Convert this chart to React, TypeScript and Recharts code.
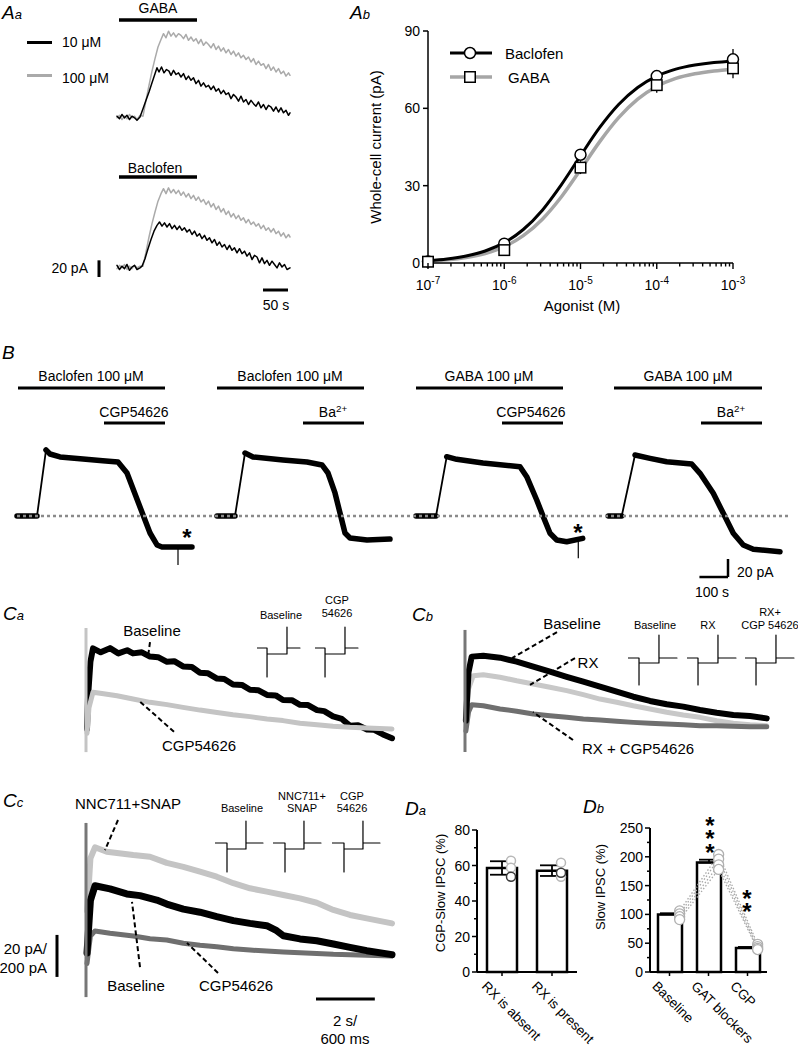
import React from 'react';
import { LineChart, ComposedChart, Line, Bar, XAxis, YAxis, ReferenceLine, ErrorBar } from 'recharts';

const FONT = '"Liberation Sans", Arial, Helvetica, sans-serif';

/* ================= Panel Aa : [time (s), current (pA)] ================= */
const aaGaba10 = [[0,1],[5,-2],[10,3],[15,-1],[20,2],[25,-3],[30,1],[35,-1],[40,-4],[46,0],[52,10],[58,20],[64,30],[70,41],[76,52],[80,59],[84,54],[89,60],[94,53],[99,57],[104,55],[108,50],[113,56],[118,51],[123,53],[128,48],[133,52],[138,45],[143,49],[148,44],[153,47],[158,40],[163,44],[168,37],[173,41],[178,36],[183,38],[188,33],[193,37],[198,31],[203,34],[208,28],[213,32],[218,27],[223,29],[228,22],[233,27],[238,24],[243,19],[248,25],[253,18],[258,21],[263,15],[268,20],[273,16],[278,13],[283,18],[288,11],[293,15],[298,9],[303,14],[308,12],[313,7],[318,12],[323,6],[328,11],[333,5],[338,8],[343,2],[346,5]];
const aaGaba100 = [[0,-1],[5,2],[10,-3],[15,1],[20,-2],[25,3],[30,-1],[35,1],[40,-3],[46,2],[52,1],[58,20],[64,38],[70,55],[76,70],[82,84],[88,93],[93,100],[98,95],[103,103],[108,97],[113,101],[118,96],[123,100],[128,98],[133,94],[138,99],[143,92],[148,96],[153,91],[158,94],[163,88],[168,93],[173,86],[178,90],[183,87],[188,83],[193,88],[198,81],[203,85],[208,79],[213,83],[218,77],[223,81],[228,75],[233,79],[238,73],[243,77],[248,71],[253,74],[258,69],[263,72],[268,66],[273,70],[278,63],[283,67],[288,62],[293,64],[298,58],[303,63],[308,56],[313,60],[318,54],[323,58],[328,52],[333,55],[338,49],[343,53],[346,50]];
const aaBac10 = [[0,2],[5,-3],[10,1],[15,-2],[20,3],[25,-4],[30,0],[35,2],[40,-3],[46,-1],[50,1],[56,10],[62,22],[68,33],[74,43],[80,50],[85,54],[90,49],[95,53],[100,48],[105,52],[110,46],[115,50],[120,45],[125,49],[130,44],[135,47],[140,42],[145,45],[150,39],[155,43],[160,37],[165,40],[170,34],[175,38],[180,32],[185,35],[190,29],[195,33],[200,26],[205,30],[210,24],[215,27],[220,21],[225,26],[230,20],[235,23],[240,17],[245,22],[250,16],[255,19],[260,13],[265,17],[270,9],[275,14],[280,12],[285,5],[290,11],[295,4],[300,8],[305,2],[310,7],[315,3],[320,-1],[325,5],[330,0],[335,3],[340,-3],[346,-1]];
const aaBac100 = [[0,-2],[5,2],[10,-1],[15,3],[20,-3],[25,1],[30,-2],[35,2],[40,-1],[46,1],[52,1],[58,18],[64,36],[70,52],[76,66],[82,79],[88,88],[93,94],[98,88],[103,95],[108,89],[113,93],[118,88],[123,92],[128,86],[133,90],[138,84],[143,88],[148,82],[153,86],[158,80],[163,84],[168,78],[173,81],[178,75],[183,79],[188,72],[193,76],[198,69],[203,73],[208,66],[213,70],[218,63],[223,67],[228,60],[233,64],[238,58],[243,62],[248,56],[253,59],[258,53],[263,57],[268,51],[273,54],[278,49],[283,52],[288,46],[293,50],[298,44],[303,47],[308,42],[313,46],[318,40],[323,43],[328,37],[333,41],[338,35],[343,39],[346,36]];
const aaApplication = [4, 160];
const aaScaleTime = 50;
const aaScaleCurrent = 20;

/* ================= Panel Ab : log10 [agonist] vs current ================= */
const abLogConc = [-7, -6, -5, -4, -3];
const abBacMean = [0.6, 7.5, 42, 72.5, 79];
const abBacSem = [0.4, 1, 2, 1.5, 4];
const abGabaMean = [0.5, 5, 37, 69, 75.5];
const abGabaSem = [0.4, 1, 2.5, 3, 3.8];
const abBacFit = [[-7,0.87],[-6.75,1.53],[-6.5,2.68],[-6.25,4.65],[-6,7.9],[-5.75,13.0],[-5.5,20.5],[-5.25,30.4],[-5,41.6],[-4.75,52.5],[-4.5,61.5],[-4.25,68.1],[-4,72.5],[-3.75,75.2],[-3.5,76.8],[-3.25,77.8],[-3,78.3]];
const abGabaFit = [[-7,0.68],[-6.75,1.21],[-6.5,2.12],[-6.25,3.7],[-6,6.33],[-5.75,10.6],[-5.5,17.0],[-5.25,25.7],[-5,36.2],[-4.75,47.0],[-4.5,56.4],[-4.25,63.6],[-4,68.5],[-3.75,71.6],[-3.5,73.4],[-3.25,74.5],[-3,75.2]];
const abDecades = [-7, -6, -5, -4, -3];
const abYTicks = [0, 30, 60, 90];

/* ================= Panel B : [time from trace start (s), current (pA)] ================= */
const bTrace1 = [[0,0],[70,0],[101.5,73.3],[115.5,68.9],[150.5,65.6],[231,63.3],[300,61.5],[353.5,60],[385,47.8],[430.5,10],[465.5,-18.9],[490,-32.2],[507.5,-34.4],[612.5,-34.4]];
const bTrace2 = [[0,0],[63,0],[98,70],[126,65.6],[231,62.2],[315,60],[367.5,56.7],[388.5,47.8],[413,25.6],[430.5,3.3],[448,-18.9],[465.5,-24.4],[525,-26.7],[605.5,-25.6]];
const bTrace3 = [[0,0],[70,0],[107.5,65.9],[142.5,63],[234.5,58.9],[364,54.8],[387.5,43.7],[422.5,17.8],[445.5,-0.8],[469,-19.2],[492.5,-26.7],[527.5,-28.6],[583.5,-24.8]];
const bTrace4 = [[0,0],[47,0],[93.5,67.8],[146,64.1],[204.5,60.3],[292,57.8],[321,47.4],[367.5,25.2],[402.5,3],[437.5,-19.2],[472.5,-32.2],[507.5,-37],[601,-39.6]];
const bTraceStart = [59.5, 759.5, 1456, 2129];
const bAgonistOn = [63, 759.5, 1456, 2149];
const bAgonistOff = [577.5, 1274, 1970.5, 2667];
const bBlockerOn = [364, 1060.5, 1757, 2453.5];
const bAgonistNames = ['Baclofen 100 \u03bcM', 'Baclofen 100 \u03bcM', 'GABA 100 \u03bcM', 'GABA 100 \u03bcM'];
const bBlockerNames = ['CGP54626', 'Ba', 'CGP54626', 'Ba'];
const bBlockerSup = ['', '2+', '', '2+'];
const bSpikeTrace = [0, 2];
const bSpikeTime = [563.5, 568];
const bSpikeFrom = [-34.4, -27];
const bSpikeTo = [-54.4, -47];
const bScaleTime = 100;
const bScaleCurrent = 20;

/* ================= Panels C : [time (ms), current (pA)] ================= */
const caBaseline = [[34,10],[68,25],[150,42],[238,48.4],[500,46.5],[816,48.5],[1100,46],[1400,47.5],[1598,46],[1900,46.5],[2176,44.5],[2450,44.2],[2754,42],[3000,42.3],[3298,39.8],[3600,39.5],[3876,36.8],[4150,36.5],[4454,34],[4700,33.8],[4998,31.2],[5300,31],[5576,28.7],[5850,28.5],[6154,26.2],[6450,26],[6698,23.8],[7000,23.7],[7276,21.5],[7550,21.4],[7854,19],[8100,18.5],[8398,16],[8700,14.8],[8976,11.5],[9250,11.8],[9554,9.8],[9800,9.6],[10098,7.4],[10404,5.6]];
const caCgp = [[34,8],[100,20],[238,27.5],[600,26.8],[1054,25.8],[1598,24.3],[2176,22.7],[2754,21.6],[3298,20.3],[3876,19.0],[4454,17.9],[4998,16.8],[5576,15.9],[6154,14.8],[6698,14.0],[7276,12.7],[7854,12.0],[8398,11.3],[8976,10.8],[9554,10.5],[10404,10.0]];
const cbBaseline = [[30,15],[120,38],[228,45.4],[622,45.8],[1190,44.9],[1758,43.0],[2322,40.6],[2890,38.2],[3458,35.8],[4022,33.5],[4590,31.1],[5158,28.7],[5722,26.3],[6290,24.3],[6858,22.7],[7422,21.6],[7990,20.0],[8558,18.7],[9122,17.6],[9690,17.1],[10258,16.0]];
const cbRx = [[30,12],[120,30],[282,36.3],[622,36.8],[1190,35.6],[1758,33.9],[2322,32.4],[2890,30.8],[3458,29.2],[4022,27.3],[4590,25.2],[5158,23.7],[5722,22.0],[6290,20.5],[6858,18.9],[7422,17.6],[7990,16.5],[8558,14.9],[9122,13.7],[9690,13.0],[10258,12.5]];
const cbRxCgp = [[30,10],[120,19],[228,22.5],[622,22.0],[1190,20.5],[1758,19.4],[2322,18.1],[2890,17.3],[3458,16.5],[4022,15.7],[4590,15.2],[5158,14.6],[5722,14.1],[6290,13.7],[6858,13.3],[7422,13.0],[7990,12.5],[8558,12.5],[9122,12.2],[9690,12.0],[10258,12.0]];
const ccNncSnap = [[40,40],[150,65],[306,70.3],[704,68.2],[1608,66.6],[2176,65.8],[2744,62.9],[3310,61.0],[3876,58.7],[4444,56.3],[5010,53.2],[5576,50.8],[6144,49.2],[6710,47.6],[7276,46.0],[7844,43.9],[8410,40.5],[8976,38.1],[9544,36.5],[10404,34.1]];
const ccBaseline = [[34,20],[150,45],[306,52.0],[816,50.5],[1384,48.1],[1836,47.3],[2404,45.2],[2744,43.3],[3310,40.9],[3876,39.4],[4444,37.3],[5010,35.4],[5576,34.1],[6144,33.0],[6484,30.6],[6710,28.2],[7276,26.7],[7844,25.8],[8410,24.3],[8976,22.7],[9544,21.1],[10404,19.2]];
const ccCgp = [[34,15],[150,28],[306,30.5],[816,29.4],[1608,28.1],[2176,26.8],[2744,26.2],[3310,24.6],[3876,23.7],[4444,23.0],[5010,22.0],[5576,21.4],[6144,20.9],[6710,20.5],[7276,20.1],[7844,19.8],[8410,19.4],[8976,19.2],[9544,18.9],[10404,18.6]];
const caArtifact = [58.1, -1];
const cbArtifact = [58.1, 0];
const ccArtifact = [81.9, -1];
const ccScaleTime = 2000;
const ccScaleCurrent = 20;
/* insets: [time (ms), current (pA)] */
const caInset = [[0,0],[102,0],[102,-138],[102,-28.6],[305,-28.6],[305,100],[305,0],[437,0]];
const cbInset = [[0,0],[112,0],[112,-128.5],[112,-23.8],[315,-23.8],[315,109.5],[315,0],[498,0]];
const ccInset = [[0,0],[122,0],[122,-138],[122,-28.6],[315,-28.6],[315,104.7],[315,0],[488,0]];

/* ================= Panel Da ================= */
const daCats = ['RX is absent', 'RX is present'];
const daMeans = [58.6, 57.1];
const daSem = [3.8, 3.0];
const daLightCells = [[62.7, 58.8], [61.6, 53.7]];
const daDarkCells = [[53.7], [55.9]];
const daYTicks = [0, 10, 20, 30, 40, 50, 60, 70, 80];

/* ================= Panel Db ================= */
const dbCats = ['Baseline', 'GAT blockers', 'CGP'];
const dbMeans = [100, 190, 41.5];
const dbSem = [2, 5, 2];
const dbCellBaseline = [106, 101, 96, 91];
const dbCellGat = [204, 196, 186, 178];
const dbCellCgp = [48, 44, 41, 39];
const dbYTicks = [0, 25, 50, 75, 100, 125, 150, 175, 200, 225, 250];

/* ================= helpers ================= */
const toPts = (pairs: number[][], offset = 0) => pairs.map(([t, i]) => ({ t: t + offset, i }));

const trace = (key: string, pairs: number[][], stroke: string, w: number, offset = 0) => (
  <Line key={key} data={toPts(pairs, offset)} dataKey="i" type="linear" stroke={stroke} strokeWidth={w}
    dot={false} activeDot={false} isAnimationActive={false} strokeLinejoin="round" strokeLinecap="round" />
);

const seg = (key: string, x1: number, y1: number, x2: number, y2: number, stroke = '#000', w = 3, dash?: string) => (
  <ReferenceLine key={key} segment={[{ x: x1, y: y1 }, { x: x2, y: y2 }]} stroke={stroke} strokeWidth={w}
    strokeDasharray={dash} ifOverflow="visible" />
);

function TraceBox({ left, top, width, height, xDomain, yDomain, children }: any) {
  return (
    <div style={{ position: 'absolute', left, top }}>
      <LineChart width={width} height={height} margin={{ top: 0, right: 0, bottom: 0, left: 0 }}>
        <XAxis type="number" dataKey="t" domain={xDomain} hide />
        <YAxis type="number" domain={yDomain} hide />
        {children}
      </LineChart>
    </div>
  );
}

function Inset({ x0, level, pairs }: any) {
  return (
    <TraceBox left={x0} top={level - 30} width={50} height={60} xDomain={[0, 508.5]} yDomain={[-142.8, 142.8]}>
      {trace('inset', pairs, '#000', 1.2)}
    </TraceBox>
  );
}

function Txt({ x, y, children, size = 14, anchor = 'middle', weight, style }: any) {
  const tx = anchor === 'middle' ? '-50%' : anchor === 'end' ? '-100%' : '0%';
  return (
    <div style={{ position: 'absolute', left: x, top: y, transform: `translate(${tx},-50%)`, fontSize: size, lineHeight: 1,
      whiteSpace: 'nowrap', fontFamily: FONT, color: '#000', fontWeight: weight, ...style }}>{children}</div>
  );
}
function VTxt({ x, y, children, size = 14 }: any) {
  return (
    <div style={{ position: 'absolute', left: x, top: y, transform: 'translate(-50%,-50%) rotate(-90deg)', fontSize: size,
      lineHeight: 1, whiteSpace: 'nowrap', fontFamily: FONT, color: '#000' }}>{children}</div>
  );
}
/* stack of asterisks; y = centre of the first glyph, gap = distance between glyph centres */
function Stars({ x, y, count = 1, size = 24, gap = 13.5 }: any) {
  const text = Array.from({ length: count }, () => '*').join('\n');
  return (
    <div style={{ position: 'absolute', left: x, top: y - 1.4, transform: 'translateX(-50%)', fontSize: size,
      lineHeight: `${gap}px`, whiteSpace: 'pre', textAlign: 'center', fontFamily: FONT, fontWeight: 'bold', color: '#000' }}>{text}</div>
  );
}
function PLabel({ x, y, big, small }: any) {
  return (
    <div style={{ position: 'absolute', left: x, top: y, transform: 'translateY(-50%)', fontStyle: 'italic', fontSize: 19,
      lineHeight: 1, fontFamily: FONT, color: '#000' }}>{big}<span style={{ fontSize: 13 }}>{small}</span></div>
  );
}
const Sup = ({ children }: any) => <span style={{ fontSize: '0.7em', verticalAlign: '0.5em', lineHeight: 0 }}>{children}</span>;

function AbXTick(props: any) {
  const { x, y, payload } = props;
  const v = Number(payload && payload.value);
  const major = Math.abs(v - Math.round(v)) < 1e-6;
  return (
    <g>
      <line x1={x} x2={x} y1={y} y2={y + (major ? 6 : 3.5)} stroke="#000" strokeWidth={1.4} />
      {major && (
        <text x={x} y={y + 27} textAnchor="middle" fontSize={14} fontFamily={FONT} fill="#000">
          10<tspan dy={-6} fontSize={10}>{String(Math.round(v))}</tspan>
        </text>
      )}
    </g>
  );
}

function YTick(props: any) {
  const { x, y, payload, step } = props;
  const v = Number(payload && payload.value);
  const major = Math.abs(v / step - Math.round(v / step)) < 1e-6;
  return (
    <g>
      <line x1={x} x2={x - (major ? 5 : 3)} y1={y} y2={y} stroke="#000" strokeWidth={1.5} />
      {major && <text x={x - 7} y={y} dy="0.36em" textAnchor="end" fontSize={14} fontFamily={FONT} fill="#000">{v}</text>}
    </g>
  );
}

function RotTick(props: any) {
  const { x, y, payload, offX, offY } = props;
  return (
    <g>
      <line x1={x} x2={x} y1={y} y2={y + 4} stroke="#000" strokeWidth={1.5} />
      <text transform={`translate(${x + offX},${y + offY}) rotate(45)`} fontSize={13.5} fontFamily={FONT} fill="#000" textAnchor="start">{payload.value}</text>
    </g>
  );
}

const openCircle = (r: number, stroke: string, sw = 1.5) => (p: any) =>
  p.cx == null ? <g key={`e${p.index}`} /> : <circle key={`c${p.index}`} cx={p.cx} cy={p.cy} r={r} fill="#fff" stroke={stroke} strokeWidth={sw} />;
const openSquare = (s: number, stroke: string, sw = 1.5) => (p: any) =>
  p.cx == null ? <g key={`e${p.index}`} /> : <rect key={`s${p.index}`} x={p.cx - s / 2} y={p.cy - s / 2} width={s} height={s} fill="#fff" stroke={stroke} strokeWidth={sw} />;

/* ================= derived tables ================= */
const abTicks: number[] = [];
abDecades.forEach((d, k) => {
  abTicks.push(d);
  if (k < abDecades.length - 1) for (let m = 2; m <= 9; m++) abTicks.push(d + Math.log10(m));
});
const abBacPts = abLogConc.map((x, k) => ({ x, y: abBacMean[k], e: abBacSem[k] }));
const abGabaPts = abLogConc.map((x, k) => ({ x, y: abGabaMean[k], e: abGabaSem[k] }));
const abBacCurve = abBacFit.map(([x, y]) => ({ x, y }));
const abGabaCurve = abGabaFit.map(([x, y]) => ({ x, y }));

const bTraces = [bTrace1, bTrace2, bTrace3, bTrace4];
const B_AGONIST_LEVEL = 142.2;
const B_BLOCKER_LEVEL = 103.3;

const DA_SHIFT = 0.18;
const daTable = daCats.map((cat, k) => ({ cat, v: daMeans[k], e: daSem[k] }));
const daLight = daLightCells.flatMap((vals, k) => vals.map((v) => ({ n: k + 0.5 + DA_SHIFT, v })));
const daDark = daDarkCells.flatMap((vals, k) => vals.map((v) => ({ n: k + 0.5 + DA_SHIFT, v })));

const DB_SHIFT = 0.26;
const dbTable = dbCats.map((cat, k) => ({ cat, v: dbMeans[k], e: [0, dbSem[k]] }));
const dbCells = dbCellBaseline.map((b, c) => [
  { n: 0.5 + DB_SHIFT, v: b },
  { n: 1.5 + DB_SHIFT, v: dbCellGat[c] },
  { n: 2.5 + DB_SHIFT, v: dbCellCgp[c] },
]);

const LIGHT = '#c4c4c4';
const DARK = '#6f6f6f';

export default function App() {
  return (
    <div style={{ position: 'absolute', left: 0, top: 0, width: 798, height: 1048, background: '#fff', overflow: 'hidden', fontFamily: FONT }}>
      {/* ---------------- Aa ---------------- */}
      <PLabel x={2} y={12} big="A" small="a" />
      <div style={{ position: 'absolute', left: 27, top: 40.5, width: 25, height: 3, background: '#000' }} />
      <div style={{ position: 'absolute', left: 27, top: 73.5, width: 25, height: 3, background: '#aaaaaa' }} />
      <Txt x={62} y={42} anchor="start">10 {'\u03bc'}M</Txt>
      <Txt x={62} y={78} anchor="start">100 {'\u03bc'}M</Txt>
      <Txt x={158} y={8}>GABA</Txt>
      <Txt x={155} y={168}>Baclofen</Txt>
      <TraceBox left={40} top={5} width={260} height={130} xDomain={[-154, 366]} yDomain={[-21.6, 134.4]}>
        {trace('g100', aaGaba100, '#aaaaaa', 1.5)}
        {trace('g10', aaGaba10, '#000', 1.5)}
        {seg('gbar', aaApplication[0], 116.4, aaApplication[1], 116.4, '#000', 3.3)}
      </TraceBox>
      <TraceBox left={40} top={155} width={260} height={145} xDomain={[-154, 366]} yDomain={[-39.6, 134.4]}>
        {trace('b100', aaBac100, '#aaaaaa', 1.5)}
        {trace('b10', aaBac10, '#000', 1.5)}
        {seg('bbar', aaApplication[0], 108, aaApplication[1], 108, '#000', 3.3)}
        {seg('sv', -36, -12, -36, -12 + aaScaleCurrent, '#000', 3)}
        {seg('sh', 292, -27.6, 292 + aaScaleTime, -27.6, '#000', 3)}
      </TraceBox>
      <Txt x={88} y={268} anchor="end">20 pA</Txt>
      <Txt x={276} y={305}>50 s</Txt>

      {/* ---------------- Ab ---------------- */}
      <PLabel x={350} y={12} big="A" small="b" />
      <div style={{ position: 'absolute', left: 300, top: 0 }}>
        <ComposedChart width={498} height={330} margin={{ top: 31, right: 65, bottom: 37, left: 88 }}>
          <XAxis type="number" dataKey="x" domain={[-7, -3]} ticks={abTicks} interval={0} height={30} tickLine={false}
            tickSize={0} tickMargin={0} axisLine={{ stroke: '#000', strokeWidth: 1.5 }} tick={<AbXTick />} />
          <YAxis type="number" domain={[0, 90]} ticks={abYTicks} interval={0} width={40} tickSize={5} tickMargin={3}
            tickLine={{ stroke: '#000', strokeWidth: 1.5 }} axisLine={{ stroke: '#000', strokeWidth: 1.5 }}
            tick={{ fill: '#000', fontSize: 14, fontFamily: FONT }} />
          <Line data={abGabaCurve} dataKey="y" type="monotone" stroke="#a6a6a6" strokeWidth={3.5} dot={false} activeDot={false} isAnimationActive={false} />
          <Line data={abBacCurve} dataKey="y" type="monotone" stroke="#000" strokeWidth={3} dot={false} activeDot={false} isAnimationActive={false} />
          <Line data={abBacPts} dataKey="y" stroke="none" dot={openCircle(5.5, '#000')} activeDot={false} isAnimationActive={false}>
            <ErrorBar dataKey="e" width={0} stroke="#000" strokeWidth={1.3} direction="y" />
          </Line>
          <Line data={abGabaPts} dataKey="y" stroke="none" dot={openSquare(10.5, '#000')} activeDot={false} isAnimationActive={false}>
            <ErrorBar dataKey="e" width={0} stroke="#000" strokeWidth={1.3} direction="y" />
          </Line>
        </ComposedChart>
      </div>
      <svg style={{ position: 'absolute', left: 440, top: 40 }} width={70} height={50}>
        <line x1={10} x2={52} y1={13} y2={13} stroke="#000" strokeWidth={3} />
        <circle cx={30} cy={13} r={5.5} fill="#fff" stroke="#000" strokeWidth={1.5} />
        <line x1={10} x2={52} y1={37} y2={37} stroke="#a6a6a6" strokeWidth={3.5} />
        <rect x={24.75} y={31.75} width={10.5} height={10.5} fill="#fff" stroke="#000" strokeWidth={1.5} />
      </svg>
      <Txt x={505} y={53} anchor="start" size={15}>Baclofen</Txt>
      <Txt x={508} y={77} anchor="start" size={15}>GABA</Txt>
      <VTxt x={375} y={147} size={15}>Whole-cell current (pA)</VTxt>
      <Txt x={582} y={305} size={15}>Agonist (M)</Txt>

      {/* ---------------- B ---------------- */}
      <PLabel x={2} y={352} big="B" small="" />
      <TraceBox left={0} top={330} width={798} height={270} xDomain={[0, 2793]} yDomain={[-93.33, 206.67]}>
        {bTraces.map((tr, k) => trace(`bb${k}`, tr.slice(0, 2), '#000', 5.5, bTraceStart[k]))}
        {bTraces.map((tr, k) => trace(`br${k}`, tr.slice(1, 3), '#000', 1.8, bTraceStart[k]))}
        {bTraces.map((tr, k) => trace(`bp${k}`, tr.slice(2), '#000', 5.5, bTraceStart[k]))}
        {bSpikeTrace.map((tk, k) => seg(`sp${k}`, bTraceStart[tk] + bSpikeTime[k], bSpikeFrom[k], bTraceStart[tk] + bSpikeTime[k], bSpikeTo[k], '#000', 1.2))}
        {seg('dot0', bTraceStart[0], 0, 2765, 0, '#8a8a8a', 2.5, '3 3')}
        {bAgonistOn.map((on, k) => seg(`ag${k}`, on, B_AGONIST_LEVEL, bAgonistOff[k], B_AGONIST_LEVEL, '#000', 3))}
        {bBlockerOn.map((on, k) => seg(`bl${k}`, on, B_BLOCKER_LEVEL, bAgonistOff[k], B_BLOCKER_LEVEL, '#000', 3))}
        {seg('bsv', 2548, -67.8, 2548, -67.8 + bScaleCurrent, '#000', 2.5)}
        {seg('bsh', 2548 - bScaleTime, -67.8, 2548, -67.8, '#000', 2.5)}
      </TraceBox>
      {bAgonistNames.map((n, k) => <Txt key={`an${k}`} x={[91, 290, 489, 688][k]} y={376}>{n}</Txt>)}
      {bBlockerNames.map((n, k) => <Txt key={`bn${k}`} x={[134, 333, 531, 731][k]} y={412}>{n}{bBlockerSup[k] && <Sup>{bBlockerSup[k]}</Sup>}</Txt>)}
      <Stars x={187} y={532} />
      <Stars x={578} y={527} />
      <Txt x={737} y={572} anchor="start">20 pA</Txt>
      <Txt x={712} y={592}>100 s</Txt>

      {/* ---------------- Ca ---------------- */}
      <PLabel x={3} y={613} big="C" small="a" />
      <TraceBox left={80} top={620} width={318} height={140} xDomain={[-204, 10608]} yDomain={[-4.76, 61.9]}>
        {trace('cab', caBaseline, '#000', 6)}
        {trace('cac', caCgp, LIGHT, 5)}
        {seg('caa', 0, caArtifact[0], 0, caArtifact[1], LIGHT, 3)}
        {seg('cl1', 2176, 51.4, 2108, 44.3, '#000', 2, '5 3')}
        {seg('cl2', 2992, 8.7, 1836, 23.0, '#000', 2, '5 3')}
      </TraceBox>
      <Txt x={152} y={630} size={15}>Baseline</Txt>
      <Txt x={199} y={745} size={15}>CGP54626</Txt>
      <Inset x0={257} level={648} pairs={caInset} />
      <Inset x0={315} level={648} pairs={caInset} />
      <Txt x={281} y={615} size={11}>Baseline</Txt>
      <Txt x={337} y={600} size={11}>CGP</Txt>
      <Txt x={337} y={613} size={11}>54626</Txt>

      {/* ---------------- Cb ---------------- */}
      <PLabel x={412} y={614} big="C" small="b" />
      <TraceBox left={458} top={620} width={340} height={140} xDomain={[-238, 11322]} yDomain={[-3.81, 62.83]}>
        {trace('cbr', cbRx, '#c8c8c8', 5)}
        {trace('cbc', cbRxCgp, DARK, 5)}
        {trace('cbb', cbBaseline, '#000', 6)}
        {seg('cba', 0, cbArtifact[0], 0, cbArtifact[1], '#777', 3)}
        {seg('cbl1', 3128, 57.1, 1598, 44.7, '#000', 2, '5 3')}
        {seg('cbl2', 3740, 44.7, 2210, 31.9, '#000', 2, '5 3')}
        {seg('cbl3', 3672, 5.7, 2312, 19.0, '#000', 2, '5 3')}
      </TraceBox>
      <Txt x={572} y={623} size={15}>Baseline</Txt>
      <Txt x={588} y={662} size={15}>RX</Txt>
      <Txt x={638} y={748} size={15}>RX + CGP54626</Txt>
      <Inset x0={628} level={658} pairs={cbInset} />
      <Inset x0={687} level={658} pairs={cbInset} />
      <Inset x0={745} level={658} pairs={cbInset} />
      <Txt x={655} y={625} size={11}>Baseline</Txt>
      <Txt x={708} y={625} size={11}>RX</Txt>
      <Txt x={770} y={612} size={11}>RX+</Txt>
      <Txt x={770} y={625} size={11}>CGP 54626</Txt>

      {/* ---------------- Cc ---------------- */}
      <PLabel x={3} y={800} big="C" small="c" />
      <TraceBox left={40} top={815} width={358} height={190} xDomain={[-1564, 10608]} yDomain={[-4.76, 85.68]}>
        {trace('ccn', ccNncSnap, LIGHT, 6)}
        {trace('ccc', ccCgp, DARK, 5)}
        {trace('ccb', ccBaseline, '#000', 7)}
        {seg('cca', 0, ccArtifact[0], 0, ccArtifact[1], '#777', 3)}
        {seg('ccl1', 1088, 83.3, 646, 69.0, '#000', 2, '5 3')}
        {seg('ccl2', 1836, 13.3, 1564, 44.3, '#000', 2, '5 3')}
        {seg('ccl3', 4488, 10.5, 3434, 24.8, '#000', 2, '5 3')}
        {seg('ccsv', -986, 8.6, -986, 8.6 + ccScaleCurrent, '#000', 3)}
        {seg('ccsh', 7820, -1.9, 7820 + ccScaleTime, -1.9, '#000', 3)}
      </TraceBox>
      <Txt x={128} y={803} size={15}>NNC711+SNAP</Txt>
      <Txt x={136} y={985} size={15}>Baseline</Txt>
      <Txt x={236} y={985} size={15}>CGP54626</Txt>
      <Inset x0={215} level={843} pairs={ccInset} />
      <Inset x0={273} level={843} pairs={ccInset} />
      <Inset x0={332} level={843} pairs={ccInset} />
      <Txt x={242} y={808} size={11}>Baseline</Txt>
      <Txt x={302} y={796} size={11}>NNC711+</Txt>
      <Txt x={302} y={808} size={11}>SNAP</Txt>
      <Txt x={352} y={796} size={11}>CGP</Txt>
      <Txt x={352} y={808} size={11}>54626</Txt>
      <Txt x={47} y={948} anchor="end" size={15}>20 pA/</Txt>
      <Txt x={47} y={967} anchor="end" size={15}>200 pA</Txt>
      <Txt x={345} y={1020} size={15}>2 s/</Txt>
      <Txt x={345} y={1038} size={15}>600 ms</Txt>

      {/* ---------------- Da ---------------- */}
      <PLabel x={405} y={808} big="D" small="a" />
      <div style={{ position: 'absolute', left: 400, top: 815 }}>
        <ComposedChart width={198} height={233} data={daTable} margin={{ top: 15, right: 21, bottom: 6, left: 32 }}>
          <XAxis dataKey="cat" type="category" height={70} interval={0} tickLine={false} tickSize={0} tickMargin={0}
            axisLine={{ stroke: '#000', strokeWidth: 2 }} tick={<RotTick offX={-21} offY={15} />} />
          <XAxis xAxisId="n" type="number" dataKey="n" domain={[0, 2]} hide />
          <YAxis type="number" domain={[0, 80]} ticks={daYTicks} interval={0} width={45} tickLine={false} tickSize={0}
            tickMargin={0} axisLine={{ stroke: '#000', strokeWidth: 2 }} tick={<YTick step={20} />} />
          <Bar dataKey="v" barSize={30} fill="#fff" stroke="#000" strokeWidth={2.5} isAnimationActive={false}>
            <ErrorBar dataKey="e" width={12} stroke="#000" strokeWidth={1.8} direction="y" />
          </Bar>
          <Line xAxisId="n" data={daLight} dataKey="v" stroke="none" dot={openCircle(4.5, '#b8b8b8')} activeDot={false} isAnimationActive={false} />
          <Line xAxisId="n" data={daDark} dataKey="v" stroke="none" dot={openCircle(4.5, '#3a3a3a')} activeDot={false} isAnimationActive={false} />
        </ComposedChart>
      </div>
      <VTxt x={440} y={893} size={13}>CGP-Slow IPSC (%)</VTxt>

      {/* ---------------- Db ---------------- */}
      <PLabel x={583} y={806} big="D" small="b" />
      <div style={{ position: 'absolute', left: 598, top: 812 }}>
        <ComposedChart width={200} height={236} data={dbTable} margin={{ top: 16, right: 31, bottom: 6, left: 12 }}>
          <XAxis dataKey="cat" type="category" height={70} interval={0} tickLine={false} tickSize={0} tickMargin={0}
            axisLine={{ stroke: '#000', strokeWidth: 2 }} tick={<RotTick offX={-18} offY={15} />} />
          <XAxis xAxisId="n" type="number" dataKey="n" domain={[0, 3]} hide />
          <YAxis type="number" domain={[0, 250]} ticks={dbYTicks} interval={0} width={40} tickLine={false} tickSize={0}
            tickMargin={0} axisLine={{ stroke: '#000', strokeWidth: 2 }} tick={<YTick step={50} />} />
          <Bar dataKey="v" barSize={24} fill="#fff" stroke="#000" strokeWidth={2.5} isAnimationActive={false}>
            <ErrorBar dataKey="e" width={10} stroke="#000" strokeWidth={1.8} direction="y" />
          </Bar>
          {dbCells.map((cell, c) => (
            <Line key={`cell${c}`} xAxisId="n" data={cell} dataKey="v" stroke="#a8a8a8" strokeWidth={1.3} strokeDasharray="1.5 2"
              dot={openCircle(5, '#b0b0b0', 1.3)} activeDot={false} isAnimationActive={false} />
          ))}
        </ComposedChart>
      </div>
      <VTxt x={600} y={887} size={13}>Slow IPSC (%)</VTxt>
      <Stars x={710} y={820} count={3} />
      <Stars x={747} y={893} count={2} />
    </div>
  );
}
